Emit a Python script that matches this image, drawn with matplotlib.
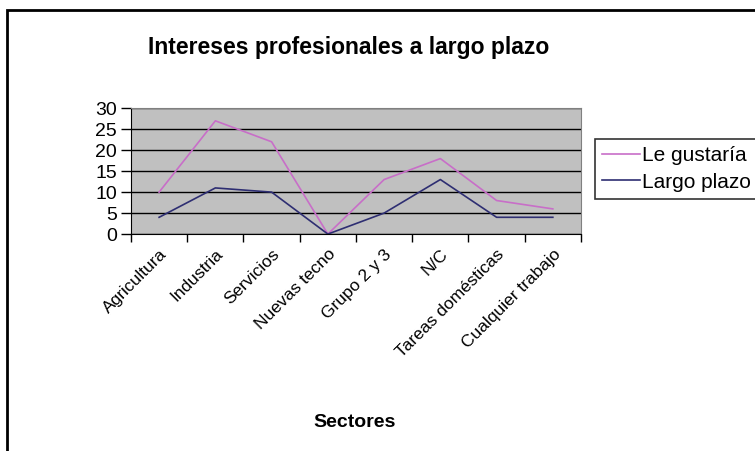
import matplotlib.pyplot as plt
from matplotlib.patches import Rectangle
import numpy as np

plt.rcParams['font.family'] = ['Liberation Sans', 'DejaVu Sans']

sectores = ["Agricultura", "Industria", "Servicios", "Nuevas tecno",
            "Grupo 2 y 3", "N/C", "Tareas domésticas", "Cualquier trabajo"]
le_gustaria = [10, 27, 22, 0, 13, 18, 8, 6]
largo_plazo = [4, 11, 10, 0, 5, 13, 4, 4]
y_ticks = [0, 5, 10, 15, 20, 25, 30]

fig = plt.figure(figsize=(7.55, 4.51), dpi=100)
ax = fig.add_axes([0.1735, 0.481, 0.596, 0.279])

x = np.arange(len(sectores))
ax.plot(x, le_gustaria, color="#c86ec8", lw=1.2, label="Le gustaría")
ax.plot(x, largo_plazo, color="#2e2e72", lw=1.2, label="Largo plazo")

ax.set_facecolor("#c0c0c0")
ax.set_xlim(-0.5, len(sectores) - 0.5)
ax.set_ylim(0, 30)
ax.set_yticks(y_ticks)
ax.yaxis.grid(True, color="black", lw=1)
ax.set_axisbelow(True)
ax.tick_params(axis="y", labelsize=14, length=7, width=1, pad=3)

# category boundaries carry the tick marks, centres carry the labels
ax.set_xticks(np.arange(len(sectores) + 1) - 0.5)
ax.set_xticklabels([])
ax.tick_params(axis="x", which="major", length=6, width=1)
ax.set_xticks(x, minor=True)
ax.set_xticklabels(sectores, minor=True, rotation=45, ha="right",
                   rotation_mode="anchor", fontsize=12.5)
ax.tick_params(axis="x", which="minor", length=0, pad=9)

for s in ["top", "right"]:
    ax.spines[s].set_color("#808080")
for s in ["left", "bottom"]:
    ax.spines[s].set_color("black")

fig.text(0.462, 0.895, "Intereses profesionales a largo plazo",
         ha="center", va="center", fontsize=16.5, fontweight="bold")
fig.text(0.47, 0.064, "Sectores", ha="center", va="center",
         fontsize=14, fontweight="bold")

leg = fig.legend(loc="upper left", bbox_to_anchor=(595 / 755, 1 - 139 / 451),
                 fontsize=15, frameon=True, fancybox=False, edgecolor="black",
                 handlelength=1.8, handletextpad=0.1, borderpad=0.35,
                 labelspacing=0.35, borderaxespad=0)
leg.get_frame().set_linewidth(1.2)

fig.patches.append(Rectangle((7 / 755, -0.1), 1.2, 1 - 10 / 451 + 0.1,
                             transform=fig.transFigure, fill=False,
                             edgecolor="black", lw=2, clip_on=False))

fig.savefig("out.png", dpi=100)
